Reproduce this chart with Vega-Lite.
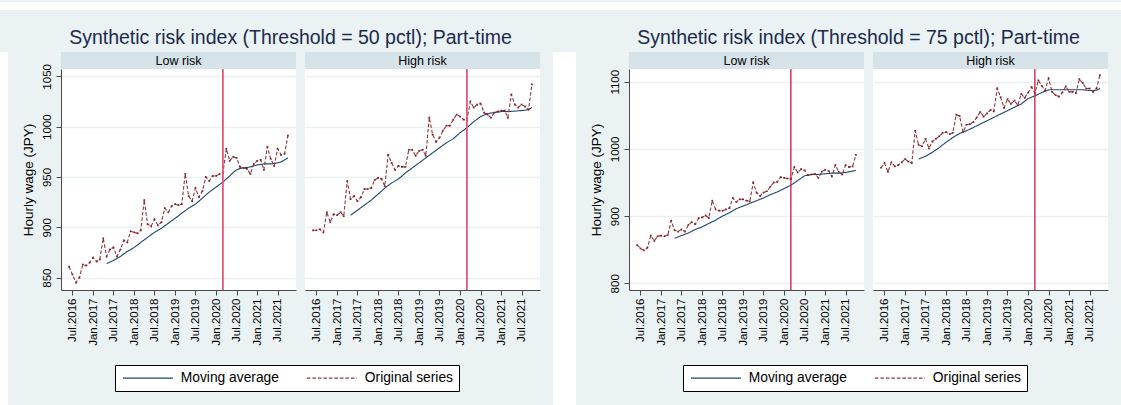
{
  "$schema": "https://vega.github.io/schema/vega-lite/v6.json",
  "background": "#eaf2f3",
  "padding": 0,
  "datasets": {
    "t50": [
      {"date":"2016-06-01","risk":"Low","orig":861},{"date":"2016-07-01","risk":"Low","orig":853},{"date":"2016-08-01","risk":"Low","orig":845},{"date":"2016-09-01","risk":"Low","orig":850},{"date":"2016-10-01","risk":"Low","orig":863},{"date":"2016-11-01","risk":"Low","orig":862},{"date":"2016-12-01","risk":"Low","orig":865},
      {"date":"2017-01-01","risk":"Low","orig":870},{"date":"2017-02-01","risk":"Low","orig":866},{"date":"2017-03-01","risk":"Low","orig":868},{"date":"2017-04-01","risk":"Low","orig":889},{"date":"2017-05-01","risk":"Low","orig":871,"ma":864},{"date":"2017-06-01","risk":"Low","orig":878,"ma":865.5},{"date":"2017-07-01","risk":"Low","orig":880,"ma":867},{"date":"2017-08-01","risk":"Low","orig":871,"ma":869},{"date":"2017-09-01","risk":"Low","orig":878,"ma":871},{"date":"2017-10-01","risk":"Low","orig":887,"ma":873.5},{"date":"2017-11-01","risk":"Low","orig":885,"ma":876},{"date":"2017-12-01","risk":"Low","orig":896,"ma":878},
      {"date":"2018-01-01","risk":"Low","orig":895,"ma":880},{"date":"2018-02-01","risk":"Low","orig":894,"ma":882.5},{"date":"2018-03-01","risk":"Low","orig":897,"ma":885},{"date":"2018-04-01","risk":"Low","orig":927,"ma":887.5},{"date":"2018-05-01","risk":"Low","orig":903,"ma":890},{"date":"2018-06-01","risk":"Low","orig":901,"ma":892.5},{"date":"2018-07-01","risk":"Low","orig":908,"ma":895},{"date":"2018-08-01","risk":"Low","orig":902,"ma":897},{"date":"2018-09-01","risk":"Low","orig":905,"ma":899},{"date":"2018-10-01","risk":"Low","orig":919,"ma":901.5},{"date":"2018-11-01","risk":"Low","orig":915,"ma":904},{"date":"2018-12-01","risk":"Low","orig":921,"ma":906.5},
      {"date":"2019-01-01","risk":"Low","orig":923,"ma":909},{"date":"2019-02-01","risk":"Low","orig":922,"ma":911.5},{"date":"2019-03-01","risk":"Low","orig":923,"ma":914},{"date":"2019-04-01","risk":"Low","orig":953,"ma":916.5},{"date":"2019-05-01","risk":"Low","orig":931,"ma":919},{"date":"2019-06-01","risk":"Low","orig":926,"ma":921},{"date":"2019-07-01","risk":"Low","orig":939,"ma":923},{"date":"2019-08-01","risk":"Low","orig":930,"ma":926},{"date":"2019-09-01","risk":"Low","orig":936,"ma":929},{"date":"2019-10-01","risk":"Low","orig":950,"ma":932},{"date":"2019-11-01","risk":"Low","orig":946,"ma":935},{"date":"2019-12-01","risk":"Low","orig":951,"ma":937.5},
      {"date":"2020-01-01","risk":"Low","orig":951,"ma":940},{"date":"2020-02-01","risk":"Low","orig":953,"ma":942.5},{"date":"2020-03-01","risk":"Low","orig":954,"ma":945},{"date":"2020-04-01","risk":"Low","orig":978,"ma":948},{"date":"2020-05-01","risk":"Low","orig":966,"ma":951},{"date":"2020-06-01","risk":"Low","orig":970,"ma":954.5},{"date":"2020-07-01","risk":"Low","orig":969,"ma":957},{"date":"2020-08-01","risk":"Low","orig":960,"ma":958.5},{"date":"2020-09-01","risk":"Low","orig":959,"ma":959},{"date":"2020-10-01","risk":"Low","orig":958,"ma":959.5},{"date":"2020-11-01","risk":"Low","orig":953,"ma":960},{"date":"2020-12-01","risk":"Low","orig":963,"ma":961},
      {"date":"2021-01-01","risk":"Low","orig":966,"ma":962},{"date":"2021-02-01","risk":"Low","orig":967,"ma":962.5},{"date":"2021-03-01","risk":"Low","orig":957,"ma":963},{"date":"2021-04-01","risk":"Low","orig":980,"ma":963},{"date":"2021-05-01","risk":"Low","orig":968,"ma":963},{"date":"2021-06-01","risk":"Low","orig":961,"ma":963.5},{"date":"2021-07-01","risk":"Low","orig":978,"ma":964},{"date":"2021-08-01","risk":"Low","orig":972,"ma":965},{"date":"2021-09-01","risk":"Low","orig":973,"ma":967},{"date":"2021-10-01","risk":"Low","orig":991,"ma":969},
      {"date":"2016-06-01","risk":"High","orig":897},{"date":"2016-07-01","risk":"High","orig":897},{"date":"2016-08-01","risk":"High","orig":898},{"date":"2016-09-01","risk":"High","orig":895},{"date":"2016-10-01","risk":"High","orig":915},{"date":"2016-11-01","risk":"High","orig":905},{"date":"2016-12-01","risk":"High","orig":913},
      {"date":"2017-01-01","risk":"High","orig":912},{"date":"2017-02-01","risk":"High","orig":915},{"date":"2017-03-01","risk":"High","orig":911},{"date":"2017-04-01","risk":"High","orig":946},{"date":"2017-05-01","risk":"High","orig":928,"ma":912},{"date":"2017-06-01","risk":"High","orig":931,"ma":914.5},{"date":"2017-07-01","risk":"High","orig":926,"ma":917},{"date":"2017-08-01","risk":"High","orig":930,"ma":919.5},{"date":"2017-09-01","risk":"High","orig":938,"ma":922},{"date":"2017-10-01","risk":"High","orig":938,"ma":924.5},{"date":"2017-11-01","risk":"High","orig":939,"ma":927},{"date":"2017-12-01","risk":"High","orig":947,"ma":930},
      {"date":"2018-01-01","risk":"High","orig":949,"ma":933},{"date":"2018-02-01","risk":"High","orig":948,"ma":936},{"date":"2018-03-01","risk":"High","orig":941,"ma":939},{"date":"2018-04-01","risk":"High","orig":972,"ma":941.5},{"date":"2018-05-01","risk":"High","orig":964,"ma":944},{"date":"2018-06-01","risk":"High","orig":957,"ma":946},{"date":"2018-07-01","risk":"High","orig":961,"ma":948},{"date":"2018-08-01","risk":"High","orig":960,"ma":951},{"date":"2018-09-01","risk":"High","orig":960,"ma":954},{"date":"2018-10-01","risk":"High","orig":977,"ma":956.5},{"date":"2018-11-01","risk":"High","orig":977,"ma":959},{"date":"2018-12-01","risk":"High","orig":971,"ma":961.5},
      {"date":"2019-01-01","risk":"High","orig":976,"ma":964},{"date":"2019-02-01","risk":"High","orig":977,"ma":966.5},{"date":"2019-03-01","risk":"High","orig":971,"ma":969},{"date":"2019-04-01","risk":"High","orig":1009,"ma":971.5},{"date":"2019-05-01","risk":"High","orig":992,"ma":974},{"date":"2019-06-01","risk":"High","orig":985,"ma":976.5},{"date":"2019-07-01","risk":"High","orig":989,"ma":979},{"date":"2019-08-01","risk":"High","orig":996,"ma":981.5},{"date":"2019-09-01","risk":"High","orig":1001,"ma":984},{"date":"2019-10-01","risk":"High","orig":1001,"ma":986},{"date":"2019-11-01","risk":"High","orig":1007,"ma":988},{"date":"2019-12-01","risk":"High","orig":1012,"ma":991},
      {"date":"2020-01-01","risk":"High","orig":1010,"ma":994},{"date":"2020-02-01","risk":"High","orig":1007,"ma":996.5},{"date":"2020-03-01","risk":"High","orig":1006,"ma":999},{"date":"2020-04-01","risk":"High","orig":1025,"ma":1002},{"date":"2020-05-01","risk":"High","orig":1019,"ma":1005},{"date":"2020-06-01","risk":"High","orig":1022,"ma":1007.5},{"date":"2020-07-01","risk":"High","orig":1023,"ma":1010},{"date":"2020-08-01","risk":"High","orig":1014,"ma":1011.5},{"date":"2020-09-01","risk":"High","orig":1012,"ma":1013},{"date":"2020-10-01","risk":"High","orig":1009,"ma":1013.5},{"date":"2020-11-01","risk":"High","orig":1014,"ma":1014},{"date":"2020-12-01","risk":"High","orig":1015,"ma":1014.5},
      {"date":"2021-01-01","risk":"High","orig":1016,"ma":1015},{"date":"2021-02-01","risk":"High","orig":1016,"ma":1015},{"date":"2021-03-01","risk":"High","orig":1009,"ma":1015},{"date":"2021-04-01","risk":"High","orig":1032,"ma":1015.2},{"date":"2021-05-01","risk":"High","orig":1022,"ma":1015.5},{"date":"2021-06-01","risk":"High","orig":1019,"ma":1015.8},{"date":"2021-07-01","risk":"High","orig":1022,"ma":1016},{"date":"2021-08-01","risk":"High","orig":1020,"ma":1016.3},{"date":"2021-09-01","risk":"High","orig":1017,"ma":1017},{"date":"2021-10-01","risk":"High","orig":1042,"ma":1019}
    ],
    "t75": [
      {"date":"2016-06-01","risk":"Low","orig":857},{"date":"2016-07-01","risk":"Low","orig":852},{"date":"2016-08-01","risk":"Low","orig":849},{"date":"2016-09-01","risk":"Low","orig":853},{"date":"2016-10-01","risk":"Low","orig":871},{"date":"2016-11-01","risk":"Low","orig":863},{"date":"2016-12-01","risk":"Low","orig":870},
      {"date":"2017-01-01","risk":"Low","orig":871},{"date":"2017-02-01","risk":"Low","orig":870},{"date":"2017-03-01","risk":"Low","orig":872},{"date":"2017-04-01","risk":"Low","orig":893},{"date":"2017-05-01","risk":"Low","orig":879,"ma":867},{"date":"2017-06-01","risk":"Low","orig":877,"ma":869},{"date":"2017-07-01","risk":"Low","orig":880,"ma":871},{"date":"2017-08-01","risk":"Low","orig":877,"ma":873},{"date":"2017-09-01","risk":"Low","orig":887,"ma":875},{"date":"2017-10-01","risk":"Low","orig":891,"ma":877.5},{"date":"2017-11-01","risk":"Low","orig":888,"ma":880},{"date":"2017-12-01","risk":"Low","orig":897,"ma":882},
      {"date":"2018-01-01","risk":"Low","orig":898,"ma":884},{"date":"2018-02-01","risk":"Low","orig":901,"ma":886.5},{"date":"2018-03-01","risk":"Low","orig":897,"ma":889},{"date":"2018-04-01","risk":"Low","orig":923,"ma":891.5},{"date":"2018-05-01","risk":"Low","orig":910,"ma":894},{"date":"2018-06-01","risk":"Low","orig":908,"ma":897},{"date":"2018-07-01","risk":"Low","orig":908,"ma":900},{"date":"2018-08-01","risk":"Low","orig":910,"ma":902.5},{"date":"2018-09-01","risk":"Low","orig":912,"ma":905},{"date":"2018-10-01","risk":"Low","orig":927,"ma":908},{"date":"2018-11-01","risk":"Low","orig":921,"ma":911},{"date":"2018-12-01","risk":"Low","orig":925,"ma":913},
      {"date":"2019-01-01","risk":"Low","orig":925,"ma":915},{"date":"2019-02-01","risk":"Low","orig":923,"ma":917},{"date":"2019-03-01","risk":"Low","orig":922,"ma":919},{"date":"2019-04-01","risk":"Low","orig":950,"ma":921},{"date":"2019-05-01","risk":"Low","orig":935,"ma":923},{"date":"2019-06-01","risk":"Low","orig":930,"ma":925},{"date":"2019-07-01","risk":"Low","orig":935,"ma":927},{"date":"2019-08-01","risk":"Low","orig":937,"ma":929.5},{"date":"2019-09-01","risk":"Low","orig":944,"ma":932},{"date":"2019-10-01","risk":"Low","orig":950,"ma":934},{"date":"2019-11-01","risk":"Low","orig":951,"ma":936},{"date":"2019-12-01","risk":"Low","orig":958,"ma":938.5},
      {"date":"2020-01-01","risk":"Low","orig":957,"ma":941},{"date":"2020-02-01","risk":"Low","orig":956,"ma":943.5},{"date":"2020-03-01","risk":"Low","orig":955,"ma":946},{"date":"2020-04-01","risk":"Low","orig":973,"ma":949.5},{"date":"2020-05-01","risk":"Low","orig":965,"ma":953},{"date":"2020-06-01","risk":"Low","orig":970,"ma":956.5},{"date":"2020-07-01","risk":"Low","orig":968,"ma":960},{"date":"2020-08-01","risk":"Low","orig":961,"ma":961},{"date":"2020-09-01","risk":"Low","orig":962,"ma":962},{"date":"2020-10-01","risk":"Low","orig":963,"ma":962},{"date":"2020-11-01","risk":"Low","orig":957,"ma":962},{"date":"2020-12-01","risk":"Low","orig":966,"ma":962.5},
      {"date":"2021-01-01","risk":"Low","orig":969,"ma":963},{"date":"2021-02-01","risk":"Low","orig":967,"ma":963.5},{"date":"2021-03-01","risk":"Low","orig":959,"ma":964},{"date":"2021-04-01","risk":"Low","orig":976,"ma":964},{"date":"2021-05-01","risk":"Low","orig":966,"ma":964},{"date":"2021-06-01","risk":"Low","orig":962,"ma":964.5},{"date":"2021-07-01","risk":"Low","orig":976,"ma":965},{"date":"2021-08-01","risk":"Low","orig":973,"ma":966},{"date":"2021-09-01","risk":"Low","orig":974,"ma":967},{"date":"2021-10-01","risk":"Low","orig":991,"ma":968},
      {"date":"2016-06-01","risk":"High","orig":972},{"date":"2016-07-01","risk":"High","orig":979},{"date":"2016-08-01","risk":"High","orig":966},{"date":"2016-09-01","risk":"High","orig":980},{"date":"2016-10-01","risk":"High","orig":974},{"date":"2016-11-01","risk":"High","orig":976},{"date":"2016-12-01","risk":"High","orig":980},
      {"date":"2017-01-01","risk":"High","orig":985},{"date":"2017-02-01","risk":"High","orig":981},{"date":"2017-03-01","risk":"High","orig":979},{"date":"2017-04-01","risk":"High","orig":1027},{"date":"2017-05-01","risk":"High","orig":1006,"ma":985},{"date":"2017-06-01","risk":"High","orig":1004,"ma":987},{"date":"2017-07-01","risk":"High","orig":1015,"ma":989},{"date":"2017-08-01","risk":"High","orig":1001,"ma":992},{"date":"2017-09-01","risk":"High","orig":1011,"ma":995},{"date":"2017-10-01","risk":"High","orig":1015,"ma":998.5},{"date":"2017-11-01","risk":"High","orig":1019,"ma":1002},{"date":"2017-12-01","risk":"High","orig":1024,"ma":1006},
      {"date":"2018-01-01","risk":"High","orig":1025,"ma":1010},{"date":"2018-02-01","risk":"High","orig":1022,"ma":1013.5},{"date":"2018-03-01","risk":"High","orig":1024,"ma":1017},{"date":"2018-04-01","risk":"High","orig":1051,"ma":1020},{"date":"2018-05-01","risk":"High","orig":1049,"ma":1023},{"date":"2018-06-01","risk":"High","orig":1025,"ma":1025},{"date":"2018-07-01","risk":"High","orig":1036,"ma":1027},{"date":"2018-08-01","risk":"High","orig":1037,"ma":1029.5},{"date":"2018-09-01","risk":"High","orig":1040,"ma":1032},{"date":"2018-10-01","risk":"High","orig":1047,"ma":1034.5},{"date":"2018-11-01","risk":"High","orig":1055,"ma":1037},{"date":"2018-12-01","risk":"High","orig":1048,"ma":1039.5},
      {"date":"2019-01-01","risk":"High","orig":1053,"ma":1042},{"date":"2019-02-01","risk":"High","orig":1058,"ma":1044.5},{"date":"2019-03-01","risk":"High","orig":1056,"ma":1047},{"date":"2019-04-01","risk":"High","orig":1090,"ma":1049.5},{"date":"2019-05-01","risk":"High","orig":1077,"ma":1052},{"date":"2019-06-01","risk":"High","orig":1061,"ma":1054.5},{"date":"2019-07-01","risk":"High","orig":1074,"ma":1057},{"date":"2019-08-01","risk":"High","orig":1067,"ma":1059.5},{"date":"2019-09-01","risk":"High","orig":1072,"ma":1062},{"date":"2019-10-01","risk":"High","orig":1065,"ma":1064.5},{"date":"2019-11-01","risk":"High","orig":1082,"ma":1067},{"date":"2019-12-01","risk":"High","orig":1076,"ma":1071},
      {"date":"2020-01-01","risk":"High","orig":1084,"ma":1075},{"date":"2020-02-01","risk":"High","orig":1092,"ma":1077},{"date":"2020-03-01","risk":"High","orig":1083,"ma":1079},{"date":"2020-04-01","risk":"High","orig":1102,"ma":1081.5},{"date":"2020-05-01","risk":"High","orig":1094,"ma":1084},{"date":"2020-06-01","risk":"High","orig":1087,"ma":1086},{"date":"2020-07-01","risk":"High","orig":1105,"ma":1088},{"date":"2020-08-01","risk":"High","orig":1085,"ma":1088},{"date":"2020-09-01","risk":"High","orig":1080,"ma":1088},{"date":"2020-10-01","risk":"High","orig":1078,"ma":1088},{"date":"2020-11-01","risk":"High","orig":1084,"ma":1088},{"date":"2020-12-01","risk":"High","orig":1093,"ma":1088},
      {"date":"2021-01-01","risk":"High","orig":1085,"ma":1088},{"date":"2021-02-01","risk":"High","orig":1085,"ma":1088},{"date":"2021-03-01","risk":"High","orig":1083,"ma":1088},{"date":"2021-04-01","risk":"High","orig":1104,"ma":1088},{"date":"2021-05-01","risk":"High","orig":1098,"ma":1088},{"date":"2021-06-01","risk":"High","orig":1090,"ma":1087.5},{"date":"2021-07-01","risk":"High","orig":1090,"ma":1087},{"date":"2021-08-01","risk":"High","orig":1085,"ma":1087},{"date":"2021-09-01","risk":"High","orig":1090,"ma":1087.5},{"date":"2021-10-01","risk":"High","orig":1110,"ma":1090}
    ]
  },
  "vconcat": [
    {
      "width": 1121, "height": 8,
      "data": {"values": [{"k": 0}]},
      "mark": {"type": "text"},
      "encoding": {"text": {"value": ""}},
      "view": {"fill": "white", "stroke": null}
    },
    {
      "hconcat": [
        {
          "width": 8, "height": 390,
          "data": {"values": [{"k": 0}]},
          "mark": {"type": "text"},
          "encoding": {"text": {"value": ""}},
          "view": {"fill": "white", "stroke": null}
        },
        {
          "title": {"text": ["", "Synthetic risk index (Threshold = 50 pctl); Part-time"], "fontSize": 19.5, "fontWeight": "normal", "color": "#1c2a4e", "anchor": "middle", "lineHeight": 16.5, "offset": 4, "dx": 10},
          "spacing": 9,
          "hconcat": [
            {
              "spacing": 0, "bounds": "flush",
              "vconcat": [
                {
                  "width": 235, "height": 17,
                  "data": {"values": [{"label": "Low risk"}]},
                  "mark": {"type": "text", "fontSize": 12.5, "color": "black"},
                  "encoding": {"text": {"field": "label"}},
                  "view": {"fill": "#d6e3e8", "stroke": null}
                },
                {
                  "width": 235, "height": 221,
                  "layer": [
                    {
                      "data": {"name": "t50"},
                      "transform": [{"filter": "datum.risk == 'Low'"}, {"fold": ["ma", "orig"], "as": ["series", "wage"]}],
                      "mark": {"type": "line", "strokeWidth": 1.1},
                      "encoding": {
                        "x": {"field": "date", "type": "temporal", "title": null,
                          "scale": {"domain": [{"year": 2016, "month": 3, "date": 21}, {"year": 2021, "month": 12, "date": 12}]},
                          "axis": {"values": [{"year":2016,"month":7,"date":1},{"year":2017,"month":1,"date":1},{"year":2017,"month":7,"date":1},{"year":2018,"month":1,"date":1},{"year":2018,"month":7,"date":1},{"year":2019,"month":1,"date":1},{"year":2019,"month":7,"date":1},{"year":2020,"month":1,"date":1},{"year":2020,"month":7,"date":1},{"year":2021,"month":1,"date":1},{"year":2021,"month":7,"date":1}], "tickCount": 20, "format": "%b.%Y", "labelAngle": 270, "labelFontSize": 11.5, "labelPadding": 3, "tickSize": 5, "grid": false, "labelOverlap": false, "labelFlush": false}},
                        "y": {"field": "wage", "type": "quantitative", "title": "Hourly wage (JPY)",
                          "scale": {"domain": [837.7, 1057.3], "nice": false, "zero": false},
                          "axis": {"values": [850, 900, 950, 1000, 1050], "tickCount": 10, "format": "d", "labelAngle": 270, "labelAlign": "center", "labelBaseline": "bottom", "labelFontSize": 11.5, "labelPadding": 4, "tickSize": 5, "grid": true, "gridColor": "#e8f0f2", "gridWidth": 1.5, "titleFontSize": 13.5, "titlePadding": 6}},
                        "color": {"field": "series", "type": "nominal", "scale": {"domain": ["ma", "orig"], "range": ["#1a476f", "#90353b"]},
                          "legend": {"orient": "none", "legendX": 54, "legendY": 313, "direction": "horizontal", "title": null, "labelExpr": "datum.label == 'ma' ? 'Moving average' : 'Original series'", "symbolType": "M-5,0H5", "symbolSize": 100, "symbolOffset": 20, "symbolStrokeWidth": 1.2, "labelOffset": 26, "labelFontSize": 13.8, "labelColor": "black", "fillColor": "white", "strokeColor": "black", "padding": 6, "columnPadding": 25}},
                        "strokeDash": {"field": "series", "type": "nominal", "scale": {"domain": ["ma", "orig"], "range": [[1, 0], [3.5, 2]]},
                          "legend": {"orient": "none", "legendX": 54, "legendY": 313, "direction": "horizontal", "title": null, "labelExpr": "datum.label == 'ma' ? 'Moving average' : 'Original series'", "symbolType": "M-5,0H5", "symbolSize": 100, "symbolOffset": 20, "symbolStrokeWidth": 1.2, "labelOffset": 26, "labelFontSize": 13.8, "labelColor": "black", "fillColor": "white", "strokeColor": "black", "padding": 6, "columnPadding": 25}}
                      }
                    },
                    {
                      "data": {"name": "t50"},
                      "transform": [{"filter": "datum.risk == 'Low'"}],
                      "mark": {"type": "square", "size": 3, "color": "#86202a", "opacity": 1},
                      "encoding": {"x": {"field": "date", "type": "temporal"}, "y": {"field": "orig", "type": "quantitative", "title": "Hourly wage (JPY)"}}
                    },
                    {
                      "data": {"values": [{"date": "2020-03-01"}]},
                      "mark": {"type": "rule", "color": "#e0557a", "strokeWidth": 1.8},
                      "encoding": {"x": {"field": "date", "type": "temporal"}}
                    }
                  ]
                }
              ]
            },
            {
              "spacing": 0, "bounds": "flush",
              "vconcat": [
                {
                  "width": 235, "height": 17,
                  "data": {"values": [{"label": "High risk"}]},
                  "mark": {"type": "text", "fontSize": 12.5, "color": "black"},
                  "encoding": {"text": {"field": "label"}},
                  "view": {"fill": "#d6e3e8", "stroke": null}
                },
                {
                  "width": 235, "height": 221,
                  "layer": [
                    {
                      "data": {"name": "t50"},
                      "transform": [{"filter": "datum.risk == 'High'"}, {"fold": ["ma", "orig"], "as": ["series", "wage"]}],
                      "mark": {"type": "line", "strokeWidth": 1.1},
                      "encoding": {
                        "x": {"field": "date", "type": "temporal", "title": null,
                          "scale": {"domain": [{"year": 2016, "month": 3, "date": 21}, {"year": 2021, "month": 12, "date": 12}]},
                          "axis": {"values": [{"year":2016,"month":7,"date":1},{"year":2017,"month":1,"date":1},{"year":2017,"month":7,"date":1},{"year":2018,"month":1,"date":1},{"year":2018,"month":7,"date":1},{"year":2019,"month":1,"date":1},{"year":2019,"month":7,"date":1},{"year":2020,"month":1,"date":1},{"year":2020,"month":7,"date":1},{"year":2021,"month":1,"date":1},{"year":2021,"month":7,"date":1}], "tickCount": 20, "format": "%b.%Y", "labelAngle": 270, "labelFontSize": 11.5, "labelPadding": 3, "tickSize": 5, "grid": false, "labelOverlap": false, "labelFlush": false}},
                        "y": {"field": "wage", "type": "quantitative", "title": null,
                          "scale": {"domain": [837.7, 1057.3], "nice": false, "zero": false},
                          "axis": {"values": [850, 900, 950, 1000, 1050], "tickCount": 10, "grid": true, "gridColor": "#e8f0f2", "gridWidth": 1.5, "labels": false, "ticks": false, "domain": false, "title": null}},
                        "color": {"field": "series", "type": "nominal", "scale": {"domain": ["ma", "orig"], "range": ["#1a476f", "#90353b"]},
                          "legend": {"orient": "none", "legendX": 54, "legendY": 313, "direction": "horizontal", "title": null, "labelExpr": "datum.label == 'ma' ? 'Moving average' : 'Original series'", "symbolType": "M-5,0H5", "symbolSize": 100, "symbolOffset": 20, "symbolStrokeWidth": 1.2, "labelOffset": 26, "labelFontSize": 13.8, "labelColor": "black", "fillColor": "white", "strokeColor": "black", "padding": 6, "columnPadding": 25}},
                        "strokeDash": {"field": "series", "type": "nominal", "scale": {"domain": ["ma", "orig"], "range": [[1, 0], [3.5, 2]]},
                          "legend": {"orient": "none", "legendX": 54, "legendY": 313, "direction": "horizontal", "title": null, "labelExpr": "datum.label == 'ma' ? 'Moving average' : 'Original series'", "symbolType": "M-5,0H5", "symbolSize": 100, "symbolOffset": 20, "symbolStrokeWidth": 1.2, "labelOffset": 26, "labelFontSize": 13.8, "labelColor": "black", "fillColor": "white", "strokeColor": "black", "padding": 6, "columnPadding": 25}}
                      }
                    },
                    {
                      "data": {"name": "t50"},
                      "transform": [{"filter": "datum.risk == 'High'"}],
                      "mark": {"type": "square", "size": 3, "color": "#86202a", "opacity": 1},
                      "encoding": {"x": {"field": "date", "type": "temporal"}, "y": {"field": "orig", "type": "quantitative", "title": null}}
                    },
                    {
                      "data": {"values": [{"date": "2020-03-01"}]},
                      "mark": {"type": "rule", "color": "#e0557a", "strokeWidth": 1.8},
                      "encoding": {"x": {"field": "date", "type": "temporal"}}
                    }
                  ]
                }
              ]
            }
          ]
        },
        {
          "width": 23, "height": 390,
          "data": {"values": [{"k": 0}]},
          "mark": {"type": "text"},
          "encoding": {"text": {"value": ""}},
          "view": {"fill": "white", "stroke": null}
        },
        {
          "title": {"text": ["", "Synthetic risk index (Threshold = 75 pctl); Part-time"], "fontSize": 19.5, "fontWeight": "normal", "color": "#1c2a4e", "anchor": "middle", "lineHeight": 16.5, "offset": 4, "dx": 10},
          "spacing": 9,
          "hconcat": [
            {
              "spacing": 0, "bounds": "flush",
              "vconcat": [
                {
                  "width": 235, "height": 17,
                  "data": {"values": [{"label": "Low risk"}]},
                  "mark": {"type": "text", "fontSize": 12.5, "color": "black"},
                  "encoding": {"text": {"field": "label"}},
                  "view": {"fill": "#d6e3e8", "stroke": null}
                },
                {
                  "width": 235, "height": 221,
                  "layer": [
                    {
                      "data": {"name": "t75"},
                      "transform": [{"filter": "datum.risk == 'Low'"}, {"fold": ["ma", "orig"], "as": ["series", "wage"]}],
                      "mark": {"type": "line", "strokeWidth": 1.1},
                      "encoding": {
                        "x": {"field": "date", "type": "temporal", "title": null,
                          "scale": {"domain": [{"year": 2016, "month": 3, "date": 21}, {"year": 2021, "month": 12, "date": 12}]},
                          "axis": {"values": [{"year":2016,"month":7,"date":1},{"year":2017,"month":1,"date":1},{"year":2017,"month":7,"date":1},{"year":2018,"month":1,"date":1},{"year":2018,"month":7,"date":1},{"year":2019,"month":1,"date":1},{"year":2019,"month":7,"date":1},{"year":2020,"month":1,"date":1},{"year":2020,"month":7,"date":1},{"year":2021,"month":1,"date":1},{"year":2021,"month":7,"date":1}], "tickCount": 20, "format": "%b.%Y", "labelAngle": 270, "labelFontSize": 11.5, "labelPadding": 3, "tickSize": 5, "grid": false, "labelOverlap": false, "labelFlush": false}},
                        "y": {"field": "wage", "type": "quantitative", "title": "Hourly wage (JPY)",
                          "scale": {"domain": [790, 1119], "nice": false, "zero": false},
                          "axis": {"values": [800, 900, 1000, 1100], "tickCount": 10, "format": "d", "labelAngle": 270, "labelAlign": "center", "labelBaseline": "bottom", "labelFontSize": 11.5, "labelPadding": 4, "tickSize": 5, "grid": true, "gridColor": "#e8f0f2", "gridWidth": 1.5, "titleFontSize": 13.5, "titlePadding": 6}},
                        "color": {"field": "series", "type": "nominal", "scale": {"domain": ["ma", "orig"], "range": ["#1a476f", "#90353b"]},
                          "legend": {"orient": "none", "legendX": 54, "legendY": 313, "direction": "horizontal", "title": null, "labelExpr": "datum.label == 'ma' ? 'Moving average' : 'Original series'", "symbolType": "M-5,0H5", "symbolSize": 100, "symbolOffset": 20, "symbolStrokeWidth": 1.2, "labelOffset": 26, "labelFontSize": 13.8, "labelColor": "black", "fillColor": "white", "strokeColor": "black", "padding": 6, "columnPadding": 25}},
                        "strokeDash": {"field": "series", "type": "nominal", "scale": {"domain": ["ma", "orig"], "range": [[1, 0], [3.5, 2]]},
                          "legend": {"orient": "none", "legendX": 54, "legendY": 313, "direction": "horizontal", "title": null, "labelExpr": "datum.label == 'ma' ? 'Moving average' : 'Original series'", "symbolType": "M-5,0H5", "symbolSize": 100, "symbolOffset": 20, "symbolStrokeWidth": 1.2, "labelOffset": 26, "labelFontSize": 13.8, "labelColor": "black", "fillColor": "white", "strokeColor": "black", "padding": 6, "columnPadding": 25}}
                      }
                    },
                    {
                      "data": {"name": "t75"},
                      "transform": [{"filter": "datum.risk == 'Low'"}],
                      "mark": {"type": "square", "size": 3, "color": "#86202a", "opacity": 1},
                      "encoding": {"x": {"field": "date", "type": "temporal"}, "y": {"field": "orig", "type": "quantitative", "title": "Hourly wage (JPY)"}}
                    },
                    {
                      "data": {"values": [{"date": "2020-03-01"}]},
                      "mark": {"type": "rule", "color": "#cc1846", "strokeWidth": 1.3},
                      "encoding": {"x": {"field": "date", "type": "temporal"}}
                    }
                  ]
                }
              ]
            },
            {
              "spacing": 0, "bounds": "flush",
              "vconcat": [
                {
                  "width": 235, "height": 17,
                  "data": {"values": [{"label": "High risk"}]},
                  "mark": {"type": "text", "fontSize": 12.5, "color": "black"},
                  "encoding": {"text": {"field": "label"}},
                  "view": {"fill": "#d6e3e8", "stroke": null}
                },
                {
                  "width": 235, "height": 221,
                  "layer": [
                    {
                      "data": {"name": "t75"},
                      "transform": [{"filter": "datum.risk == 'High'"}, {"fold": ["ma", "orig"], "as": ["series", "wage"]}],
                      "mark": {"type": "line", "strokeWidth": 1.1},
                      "encoding": {
                        "x": {"field": "date", "type": "temporal", "title": null,
                          "scale": {"domain": [{"year": 2016, "month": 3, "date": 21}, {"year": 2021, "month": 12, "date": 12}]},
                          "axis": {"values": [{"year":2016,"month":7,"date":1},{"year":2017,"month":1,"date":1},{"year":2017,"month":7,"date":1},{"year":2018,"month":1,"date":1},{"year":2018,"month":7,"date":1},{"year":2019,"month":1,"date":1},{"year":2019,"month":7,"date":1},{"year":2020,"month":1,"date":1},{"year":2020,"month":7,"date":1},{"year":2021,"month":1,"date":1},{"year":2021,"month":7,"date":1}], "tickCount": 20, "format": "%b.%Y", "labelAngle": 270, "labelFontSize": 11.5, "labelPadding": 3, "tickSize": 5, "grid": false, "labelOverlap": false, "labelFlush": false}},
                        "y": {"field": "wage", "type": "quantitative", "title": null,
                          "scale": {"domain": [790, 1119], "nice": false, "zero": false},
                          "axis": {"values": [800, 900, 1000, 1100], "tickCount": 10, "grid": true, "gridColor": "#e8f0f2", "gridWidth": 1.5, "labels": false, "ticks": false, "domain": false, "title": null}},
                        "color": {"field": "series", "type": "nominal", "scale": {"domain": ["ma", "orig"], "range": ["#1a476f", "#90353b"]},
                          "legend": {"orient": "none", "legendX": 54, "legendY": 313, "direction": "horizontal", "title": null, "labelExpr": "datum.label == 'ma' ? 'Moving average' : 'Original series'", "symbolType": "M-5,0H5", "symbolSize": 100, "symbolOffset": 20, "symbolStrokeWidth": 1.2, "labelOffset": 26, "labelFontSize": 13.8, "labelColor": "black", "fillColor": "white", "strokeColor": "black", "padding": 6, "columnPadding": 25}},
                        "strokeDash": {"field": "series", "type": "nominal", "scale": {"domain": ["ma", "orig"], "range": [[1, 0], [3.5, 2]]},
                          "legend": {"orient": "none", "legendX": 54, "legendY": 313, "direction": "horizontal", "title": null, "labelExpr": "datum.label == 'ma' ? 'Moving average' : 'Original series'", "symbolType": "M-5,0H5", "symbolSize": 100, "symbolOffset": 20, "symbolStrokeWidth": 1.2, "labelOffset": 26, "labelFontSize": 13.8, "labelColor": "black", "fillColor": "white", "strokeColor": "black", "padding": 6, "columnPadding": 25}}
                      }
                    },
                    {
                      "data": {"name": "t75"},
                      "transform": [{"filter": "datum.risk == 'High'"}],
                      "mark": {"type": "square", "size": 3, "color": "#86202a", "opacity": 1},
                      "encoding": {"x": {"field": "date", "type": "temporal"}, "y": {"field": "orig", "type": "quantitative", "title": null}}
                    },
                    {
                      "data": {"values": [{"date": "2020-03-01"}]},
                      "mark": {"type": "rule", "color": "#cc1846", "strokeWidth": 1.3},
                      "encoding": {"x": {"field": "date", "type": "temporal"}}
                    }
                  ]
                }
              ]
            }
          ]
        }
      ],
      "spacing": 13,
      "resolve": {"scale": {"color": "independent", "strokeDash": "independent"}}
    }
  ],
  "spacing": 0,
  "config": {
    "font": "Liberation Sans",
    "view": {"stroke": null, "fill": "white"},
    "axis": {"domainColor": "#4a4a4a", "tickColor": "#4a4a4a", "labelColor": "black", "titleColor": "black", "titleFontWeight": "normal", "labelFont": "Liberation Sans", "titleFont": "Liberation Sans"},
    "legend": {"labelFont": "Liberation Sans"},
    "title": {"font": "Liberation Sans"}
  }
}
